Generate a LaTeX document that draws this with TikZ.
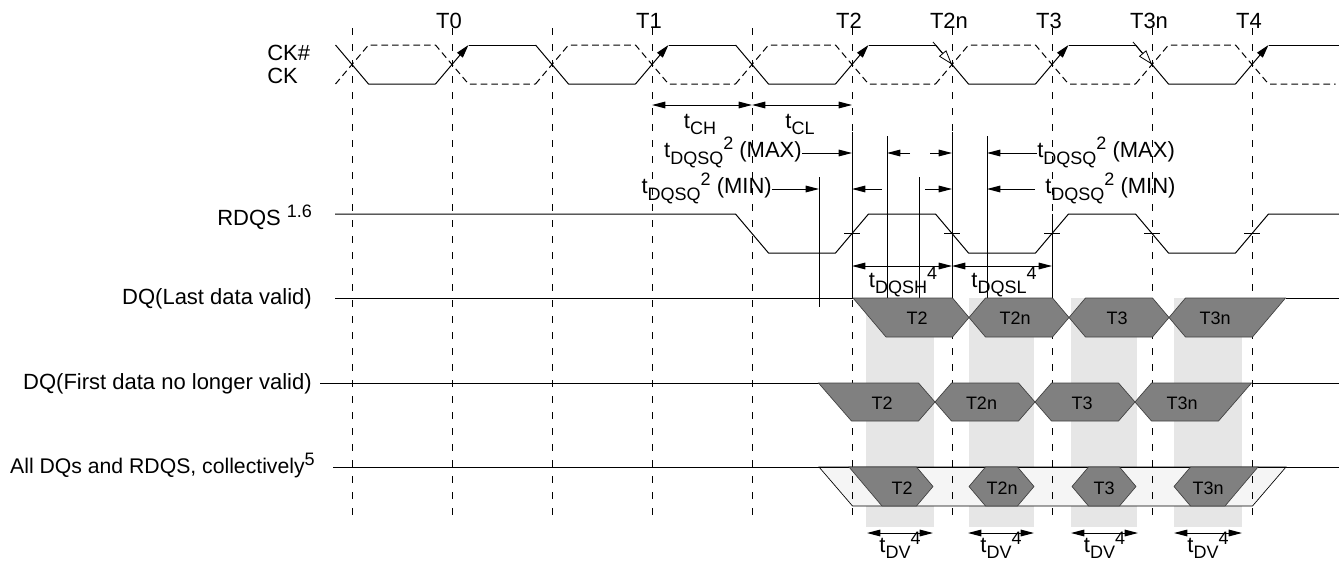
\documentclass[tikz,border=0pt]{standalone}
\usepackage{fontspec}
\setmainfont{Liberation Sans}
\usetikzlibrary{arrows.meta}

\definecolor{eyegray}{HTML}{808080}
\definecolor{bandgray}{HTML}{E6E6E6}
\definecolor{envgray}{HTML}{F5F5F5}

\newcommand{\tsub}[1]{\raisebox{-5pt}{\fontsize{13.5}{14}\selectfont #1}}
\newcommand{\tsup}[1]{\raisebox{6pt}{\fontsize{13.5}{14}\selectfont #1}}

\tikzset{
  tline/.style={line width=0.7pt, dash pattern=on 5pt off 7pt},
  sig/.style={line width=0.75pt},
  cknsig/.style={line width=0.75pt, dash pattern=on 5pt off 3pt},
  riseedge/.style={line width=0.75pt, -{Triangle[length=10pt,width=5.5pt]}},
  falledge/.style={line width=0.6pt, -{Triangle[fill=white,length=11pt,width=7pt]}},
  meas/.style={line width=0.75pt, -{Triangle[length=10pt,width=5pt]}},
  dspan/.style={line width=0.75pt, {Triangle[length=10pt,width=5pt]}-{Triangle[length=10pt,width=5pt]}},
  eye/.style={fill=eyegray, draw=black!75, line width=0.5pt},
  lbl/.style={inner sep=0pt, font=\fontsize{16.5}{18}\selectfont},
  eyelbl/.style={inner sep=0pt, font=\fontsize{13.5}{14}\selectfont},
}

\begin{document}
\begin{tikzpicture}[x=0.75pt, y=-0.75pt]
\useasboundingbox (0,0) rectangle (1339,564);

%valid windows
\foreach \a/\b in {866/934, 969/1034, 1071/1137, 1174/1242}
  \fill[bandgray] (\a,298) rectangle (\b,527);

%envelope of all DQs
\draw[fill=envgray, line width=0.5pt] (819,467) -- (1286,467) -- (1252.5,506) -- (852.5,506) -- cycle;

%clock lines
\foreach \x in {352,452,...,1252}
  \draw[tline] (\x,28) -- (\x,522);
\foreach \x/\t in {452/T0,652/T1,852/T2,952/T2n,1052/T3,1152/T3n,1252/T4}
  \node[lbl, anchor=base] (lab\t) at (\x-3,28) {\t};

%CK and CK#
\foreach \c in {352,552,752,952,1152} {
  \draw[sig] (\c-16.5,45) -- (\c+16.5,84) -- (\c+83.5,84);
  \draw[riseedge] (\c+83.5,84) -- (\c+116.5,45);
  \draw[sig] (\c+116.5,45) -- (\c+183.5,45);
  \draw[cknsig] (\c-16.5,84) -- (\c+16.5,45) -- (\c+83.5,45) -- (\c+116.5,84) -- (\c+183.5,84);
}
\draw[sig] (1335.5,45) -- (1339,45);
\draw[falledge] (933,42) -- (952,64.5);
\draw[falledge] (1133,42) -- (1152,64.5);
\node[lbl, anchor=base west] (ckb) at (267,60) {CK\#};
\node[lbl, anchor=base west] (ck) at (267,83) {CK};

%tCH and tCL
\draw[dspan] (652,105) -- (752,105);
\draw[dspan] (752,105) -- (852,105);
\node[lbl, anchor=base] (tch) at (700,128) {t\tsub{CH}};
\node[lbl, anchor=base] (tcl) at (800,128) {t\tsub{CL}};

%tDQSQ limits
\draw[sig] (852,132) -- (852,298);
\draw[sig] (952,132) -- (952,298);
\draw[sig] (887,136) -- (887,298);
\draw[sig] (987,136) -- (987,298);
\draw[sig] (819,177) -- (819,307);
\draw[sig] (919,177) -- (919,298);
\draw[sig] (1052,214) -- (1052,298);

\coordinate (maxa) at (852,153);
\coordinate (maxb) at (987,153);
\node[lbl, anchor=base east] (maxl) at (802,157.5) {t\tsub{DQSQ}\tsup{2} (MAX)};
\node[lbl, anchor=base west] (maxr) at (1037,157.5) {t\tsub{DQSQ}\tsup{2} (MAX)};
\draw[meas] (maxl.east |- maxa) -- (maxa);
\draw[meas] (910,153) -- (887,153);
\draw[meas] (930,153) -- (952,153);
\draw[meas] (maxr.west |- maxb) -- (maxb);

\coordinate (mina) at (819,189);
\coordinate (minb) at (987,189);
\node[lbl, anchor=base east] (minl) at (772,193.5) {t\tsub{DQSQ}\tsup{2} (MIN)};
\node[lbl, anchor=base west] (minr) at (1045,193.5) {t\tsub{DQSQ}\tsup{2} (MIN)};
\draw[meas] (minl.east |- mina) -- (mina);
\draw[meas] (882,189) -- (852,189);
\draw[meas] (925,189) -- (952,189);
\draw[meas] (1035,189) -- (minb);

%RDQS
\draw[sig] (335,214) -- (735.5,214) -- (768.5,253) -- (835.5,253) -- (868.5,214) -- (935.5,214)
  -- (968.5,253) -- (1035.5,253) -- (1068.5,214) -- (1135.5,214) -- (1168.5,253) -- (1235.5,253)
  -- (1268.5,214) -- (1339,214);
\foreach \x in {852,952,...,1252}
  \draw[sig] (\x-8,233.5) -- (\x+8,233.5);
\node[lbl, anchor=base west] (rdqs) at (217,225) {RDQS \tsup{1.6}};

%tDQSH and tDQSL
\draw[dspan] (852,266) -- (952,266);
\draw[dspan] (952,266) -- (1052,266);
\node[lbl, anchor=base] (tdqsh) at (903,287) {t\tsub{DQSH}\tsup{4}};
\node[lbl, anchor=base] (tdqsl) at (1004,287) {t\tsub{DQSL}\tsup{4}};

%DQ last data valid
\node[lbl, anchor=base east] (dqlast) at (312,304) {DQ(Last data valid)};
\draw[sig] (335,298) -- (853,298);
\draw[sig] (1285.5,298) -- (1339,298);
\draw[eye] (853,298) -- (952.5,298) -- (969,317.5) -- (952.5,337) -- (886,337) -- cycle;
\draw[eye] (969,317.5) -- (985.5,298) -- (1052.5,298) -- (1069,317.5) -- (1052.5,337) -- (985.5,337) -- cycle;
\draw[eye] (1069,317.5) -- (1085.5,298) -- (1152.5,298) -- (1169,317.5) -- (1152.5,337) -- (1085.5,337) -- cycle;
\draw[eye] (1169,317.5) -- (1185.5,298) -- (1285.5,298) -- (1252.5,337) -- (1185.5,337) -- cycle;
\foreach \x/\t in {917/T2,1015/T2n,1117/T3,1215/T3n}
  \node[eyelbl] (last\t) at (\x,318.5) {\t};

%DQ first data no longer valid
\node[lbl, anchor=base east] (dqfirst) at (312,389) {DQ(First data no longer valid)};
\draw[sig] (320,383) -- (818.5,383);
\draw[sig] (1251.5,383) -- (1339,383);
\draw[eye] (818.5,383) -- (918.5,383) -- (935,402) -- (918.5,421) -- (851.5,421) -- cycle;
\draw[eye] (935,402) -- (951.5,383) -- (1018.5,383) -- (1035,402) -- (1018.5,421) -- (951.5,421) -- cycle;
\draw[eye] (1035,402) -- (1051.5,383) -- (1118.5,383) -- (1135,402) -- (1118.5,421) -- (1051.5,421) -- cycle;
\draw[eye] (1135,402) -- (1151.5,383) -- (1251.5,383) -- (1218.5,421) -- (1151.5,421) -- cycle;
\foreach \x/\t in {882/T2,981.5/T2n,1082/T3,1182/T3n}
  \node[eyelbl] (first\t) at (\x,403.5) {\t};

%all DQs and RDQS
\node[lbl, font=\fontsize{15.9}{18}\selectfont, anchor=base east] (dqall) at (315,473) {All DQs and RDQS, collectively\tsup{5}};
\draw[sig] (333,467) -- (1339,467);
\draw[eye] (849,467) -- (916.5,467) -- (933,486.5) -- (916.5,506) -- (882,506) -- cycle;
\draw[eye] (969,486.5) -- (985.5,467) -- (1017.5,467) -- (1034,486.5) -- (1017.5,506) -- (985.5,506) -- cycle;
\draw[eye] (1072,486.5) -- (1088.5,467) -- (1119.5,467) -- (1136,486.5) -- (1119.5,506) -- (1088.5,506) -- cycle;
\draw[eye] (1174,486.5) -- (1190.5,467) -- (1258,467) -- (1225,506) -- (1190.5,506) -- cycle;
\foreach \x/\t in {902/T2,1002/T2n,1104/T3,1208/T3n}
  \node[eyelbl] (all\t) at (\x,488) {\t};

%tDV
\foreach \a/\b [count=\i] in {867/933, 968/1034, 1071/1138, 1174/1242} {
  \draw[dspan] (\a,533) -- (\b,533);
  \node[lbl, anchor=base] (tdv\i) at ({(\a+\b)/2},552) {t\tsub{DV}\tsup{4}};
}

\end{tikzpicture}
\end{document}
